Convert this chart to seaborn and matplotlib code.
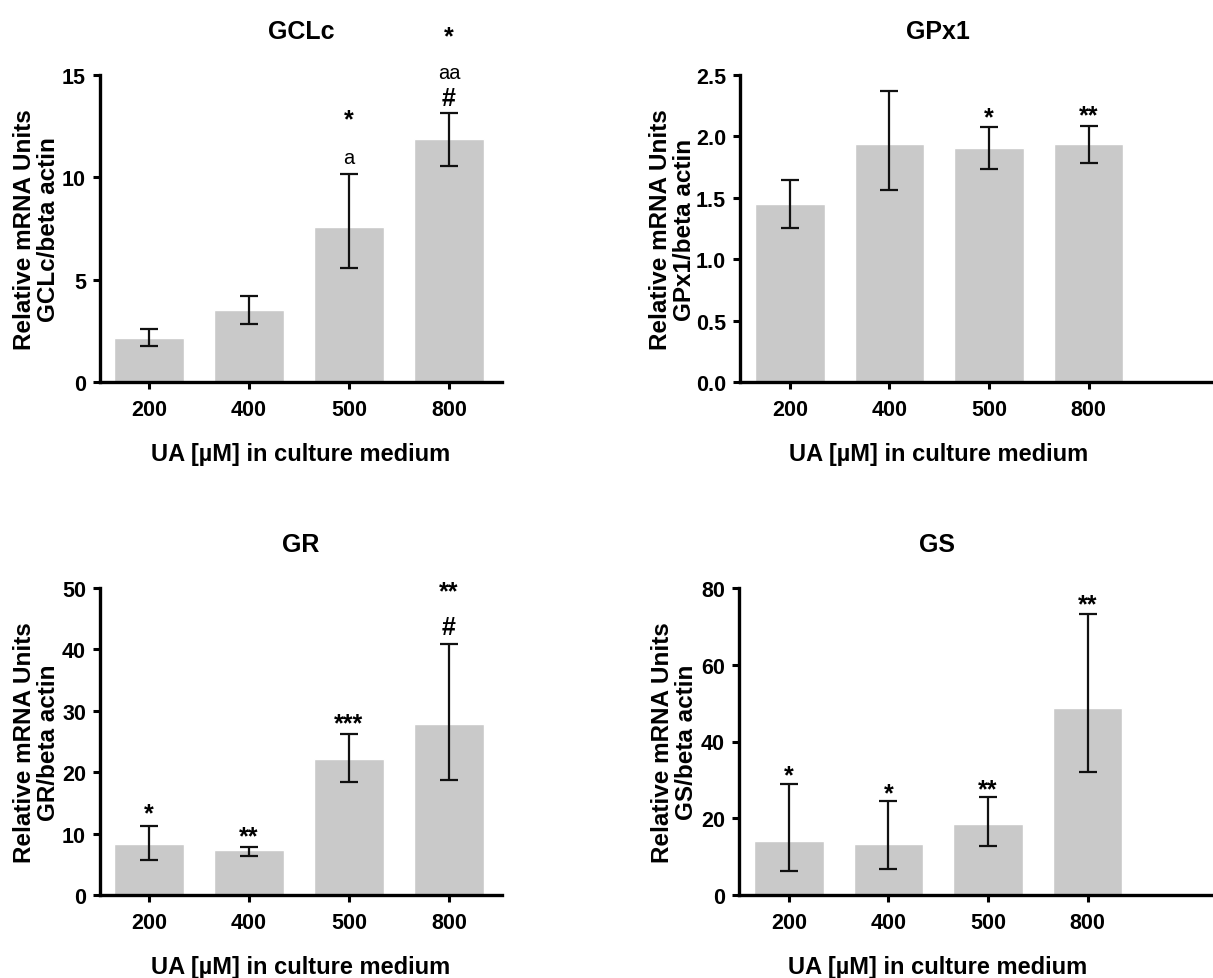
import numpy as np
import pandas as pd
import seaborn as sns
import matplotlib.pyplot as plt

# UA concentrations (x categories)
conc = ['200', '400', '500', '800']

# bar means and error bar ends
gclc_mean = [2.15, 3.5, 7.58, 11.88]
gclc_lo = [1.74, 2.81, 5.56, 10.53]
gclc_hi = [2.6, 4.18, 10.17, 13.14]

gpx1_mean = [1.448, 1.941, 1.909, 1.941]
gpx1_lo = [1.253, 1.567, 1.735, 1.784]
gpx1_hi = [1.646, 2.373, 2.074, 2.088]

gr_mean = [8.26, 7.34, 22.2, 27.9]
gr_lo = [5.7, 6.36, 18.4, 18.7]
gr_hi = [11.3, 7.83, 26.2, 40.9]

gs_mean = [14.0, 13.3, 18.5, 48.8]
gs_lo = [6.35, 6.8, 12.8, 32.1]
gs_hi = [29.0, 24.6, 25.5, 73.1]

# significance marks: (bar index, y value, text, bold)
gclc_marks = [(2, 10.98, 'a', False), (2, 12.85, '*', True),
              (3, 13.9, '#', True), (3, 15.1, 'aa', False), (3, 16.9, '*', True)]
gpx1_marks = [(2, 2.155, '*', True), (3, 2.175, '**', True)]
gr_marks = [(0, 13.3, '*', True), (1, 9.6, '**', True), (2, 28.0, '***', True),
            (3, 43.6, '#', True), (3, 49.5, '**', True)]
gs_marks = [(0, 31.3, '*', True), (1, 26.6, '*', True), (2, 27.6, '**', True),
            (3, 75.7, '**', True)]

sns.set_style('ticks')
plt.rcParams['font.family'] = ['Liberation Sans', 'DejaVu Sans']
plt.rcParams['font.weight'] = 'bold'
plt.rcParams['axes.labelweight'] = 'bold'
plt.rcParams['axes.titleweight'] = 'bold'
for k in ['text.color', 'axes.labelcolor', 'xtick.color', 'ytick.color', 'axes.edgecolor']:
    plt.rcParams[k] = 'black'

W, H = 1213, 979
fig = plt.figure(figsize=(W / 100, H / 100), dpi=100)


def make_ax(left, top, width, height):
    return fig.add_axes([left / W, 1 - (top + height) / H, width / W, height / H])


# name, data, ticks, axes, xlim, title/xlabel x, ylabel x
panels = [
    ('GCLc', gclc_mean, gclc_lo, gclc_hi, gclc_marks, [0, 5, 10, 15], '%d',
     make_ax(100, 76, 402, 307), (-0.49, 3.53), 0.5, -0.157),
    ('GPx1', gpx1_mean, gpx1_lo, gpx1_hi, gpx1_marks, [0, 0.5, 1.0, 1.5, 2.0, 2.5], '%.1f',
     make_ax(740, 76, 478, 307), (-0.5, 4.3), 0.415, -0.141),
    ('GR', gr_mean, gr_lo, gr_hi, gr_marks, [0, 10, 20, 30, 40, 50], '%d',
     make_ax(100, 589, 402, 307), (-0.49, 3.53), 0.5, -0.157),
    ('GS', gs_mean, gs_lo, gs_hi, gs_marks, [0, 20, 40, 60, 80], '%d',
     make_ax(739, 589, 478, 307), (-0.5, 4.3), 0.415, -0.135),
]

for name, mean, lo, hi, marks, yticks, fmt, ax, xlim, tx, lx in panels:
    df = pd.DataFrame({'conc': conc, 'val': mean})
    sns.barplot(data=df, x='conc', y='val', color='#C9C9C9', saturation=1,
                width=0.7, errorbar=None, ax=ax)
    mean = np.array(mean)
    yerr = [mean - np.array(lo), np.array(hi) - mean]
    ax.errorbar(np.arange(len(conc)), mean, yerr=yerr, fmt='none', ecolor='#111111',
                elinewidth=1.6, capsize=6.5, capthick=1.6)
    for i, y, t, b in marks:
        ax.text(i, y, t, ha='center', va='center', fontsize=18 if b else 14.5,
                fontweight='bold' if b else 'normal', clip_on=False)
    ax.set_xlim(*xlim)
    ax.set_ylim(0, yticks[-1])
    ax.set_yticks(yticks)
    ax.set_yticklabels([fmt % v for v in yticks])
    ax.tick_params(axis='both', labelsize=15.5, width=2.2, length=5)
    ax.tick_params(axis='x', pad=7)
    ax.tick_params(axis='y', pad=5)
    sns.despine(ax=ax)
    for s in ['left', 'bottom']:
        ax.spines[s].set_linewidth(2.4)
    ax.set_title(name, fontsize=18, x=tx, y=1.143, va='center', pad=0)
    ax.set_ylabel('Relative mRNA Units\n%s/beta actin' % name, fontsize=17.5, va='center',
                  linespacing=1.05)
    ax.yaxis.set_label_coords(lx, 0.5)
    ax.set_xlabel('UA [\u00b5M] in culture medium', fontsize=17, va='center')
    ax.xaxis.set_label_coords(tx, -0.232)

fig.savefig('out.png', dpi=100)
